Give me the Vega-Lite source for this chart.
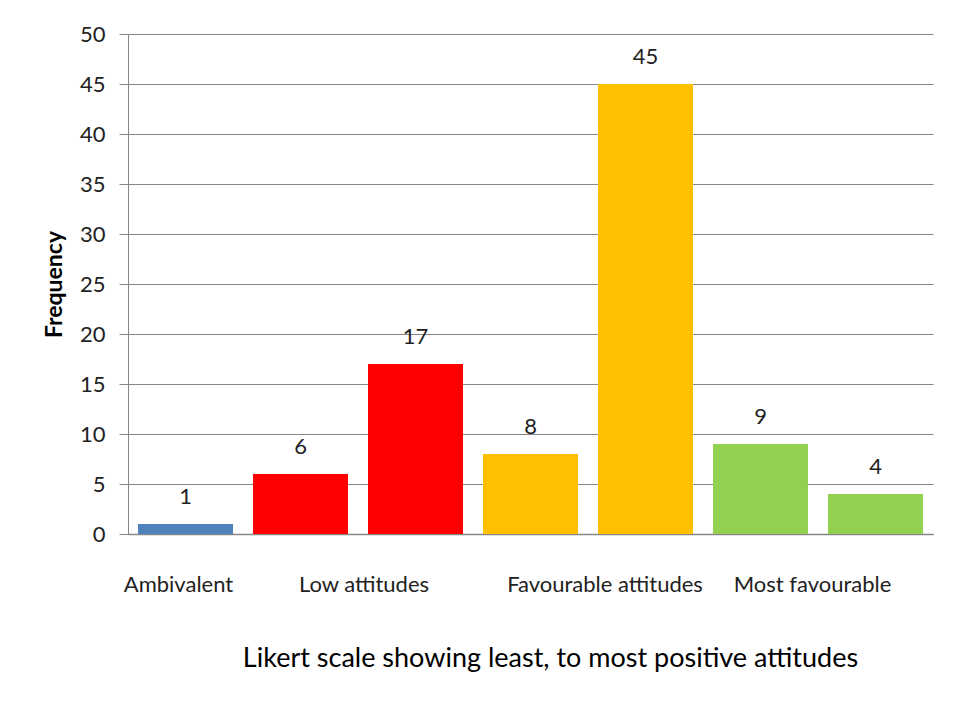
{
  "$schema": "https://vega.github.io/schema/vega-lite/v6.json",
  "width": 805,
  "height": 500,
  "autosize": {"type": "none"},
  "padding": {"left": 128, "top": 34, "right": 27, "bottom": 181},
  "background": "white",
  "config": {
    "view": {"stroke": null},
    "font": "Lato",
    "axis": {"labelFont": "Lato", "titleFont": "Lato", "labelColor": "#222222", "titleColor": "#000000"}
  },
  "data": {
    "values": [
      {"bar": "1", "group": "Ambivalent", "value": 1},
      {"bar": "2", "group": "Low attitudes", "value": 6},
      {"bar": "3", "group": "Low attitudes", "value": 17},
      {"bar": "4", "group": "Favourable attitudes", "value": 8},
      {"bar": "5", "group": "Favourable attitudes", "value": 45},
      {"bar": "6", "group": "Most favourable", "value": 9},
      {"bar": "7", "group": "Most favourable", "value": 4}
    ]
  },
  "encoding": {
    "x": {
      "field": "bar",
      "type": "nominal",
      "sort": null,
      "scale": {"paddingInner": 0.174, "paddingOuter": 0.087},
      "axis": {
        "title": "Likert scale showing least, to most positive attitudes",
        "titleFontSize": 27,
        "titleFontWeight": "normal",
        "titleX": 422,
        "titleY": 124,
        "titleAlign": "center",
        "titleBaseline": "middle",
        "labelAngle": 0,
        "labelFontSize": 22,
        "labelPadding": 50,
        "labelLimit": 400,
        "labelBaseline": "middle",
        "labelExpr": "({'1':'Ambivalent','2':'Low attitudes','4':'Favourable  attitudes','6':'Most favourable'})[datum.value] || ''",
        "labelOffset": {
          "condition": [
            {"test": "datum.value == '1'", "value": -7},
            {"test": "datum.value == '2'", "value": 63.5},
            {"test": "datum.value == '4'", "value": 74.5}
          ],
          "value": 52
        },
        "ticks": false,
        "domainColor": "#868686",
        "domainWidth": 1.5
      }
    },
    "y": {
      "field": "value",
      "type": "quantitative",
      "scale": {"domain": [0, 50], "nice": false},
      "axis": {
        "title": "Frequency",
        "titleFontSize": 23,
        "titleFontWeight": "bold",
        "titleX": -74,
        "titleY": 250,
        "titleAlign": "center",
        "titleBaseline": "middle",
        "values": [0, 5, 10, 15, 20, 25, 30, 35, 40, 45, 50],
        "labelFontSize": 22,
        "labelPadding": 14,
        "tickSize": 9,
        "tickColor": "#868686",
        "domainColor": "#868686",
        "gridColor": "#868686",
        "gridWidth": 1.2,
        "grid": true
      }
    }
  },
  "layer": [
    {
      "mark": {"type": "bar"},
      "encoding": {
        "color": {
          "field": "group",
          "type": "nominal",
          "scale": {
            "domain": ["Ambivalent", "Low attitudes", "Favourable attitudes", "Most favourable"],
            "range": ["#4F81BD", "#FF0000", "#FFC000", "#92D050"]
          },
          "legend": null
        }
      }
    },
    {
      "mark": {"type": "text", "baseline": "middle", "dy": -27, "fontSize": 22, "color": "#222222"},
      "encoding": {"text": {"field": "value", "type": "quantitative"}}
    }
  ]
}
